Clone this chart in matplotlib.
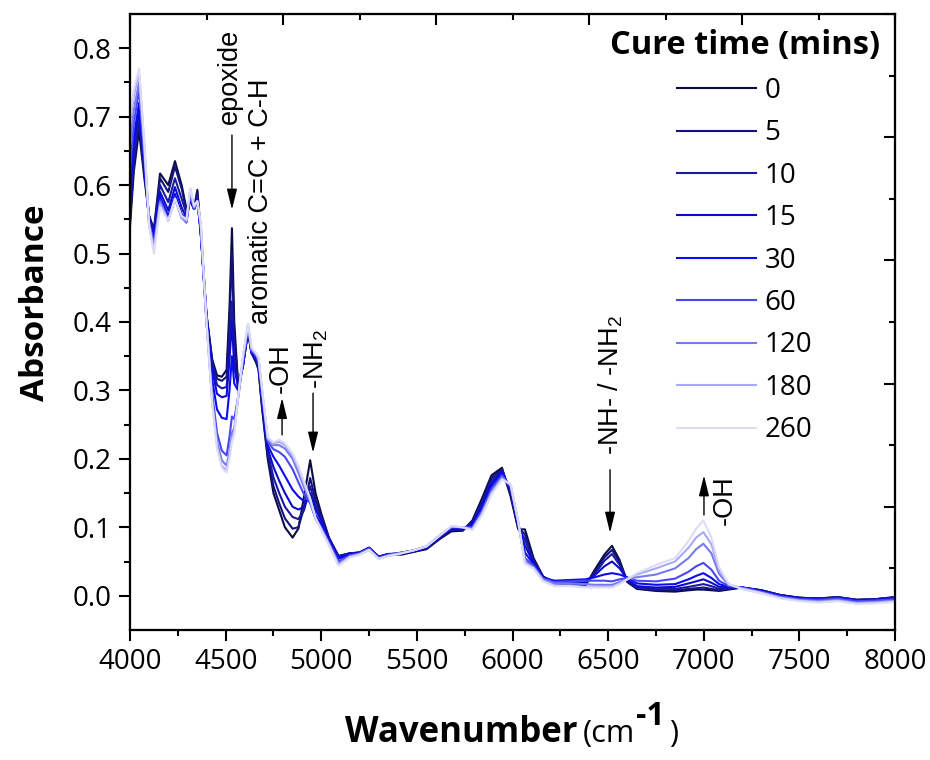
#!/usr/bin/env python3
"""
NIR spectra of the epoxy/amine mix recorded at increasing cure times.
Arrows mark the bands that grow (-OH) or shrink (epoxide, -NH2, -NH-).
"""
import numpy as np
import matplotlib

matplotlib.use("Agg")
import matplotlib.pyplot as plt

plt.rcParams["font.family"] = ["Open Sans", "DejaVu Sans"]

# wavenumber grid (cm-1) shared by every spectrum
wavenumber = [
    4000, 4020, 4047, 4075, 4100, 4125, 4157, 4200, 4235, 4270,
    4295, 4315, 4335, 4352, 4370, 4400, 4430, 4455, 4480, 4505,
    4520, 4533, 4545, 4565, 4590, 4617, 4635, 4660, 4672, 4690,
    4720, 4750, 4780, 4810, 4850, 4880, 4910, 4942, 4970, 5000,
    5040, 5090, 5150, 5200, 5250, 5300, 5350, 5420, 5480, 5550,
    5620, 5680, 5740, 5790, 5840, 5890, 5945, 5990, 6030, 6065,
    6110, 6160, 6220, 6300, 6380, 6430, 6480, 6520, 6560, 6600,
    6650, 6750, 6850, 6920, 6960, 6998, 7040, 7080, 7130, 7200,
    7300, 7400, 7500, 7600, 7700, 7800, 7900, 8000,
]

cure_times = ["0", "5", "10", "15", "30", "60", "120", "180", "260"]

abs_0 = [
    0.54, 0.62, 0.68, 0.61, 0.555, 0.535, 0.617, 0.60, 0.635, 0.60,
    0.565, 0.578, 0.565, 0.593, 0.53, 0.41, 0.345, 0.322, 0.32, 0.33,
    0.42, 0.537, 0.40, 0.31, 0.335, 0.385, 0.355, 0.34, 0.33, 0.275,
    0.20, 0.15, 0.125, 0.10, 0.085, 0.098, 0.145, 0.198, 0.15, 0.12,
    0.085, 0.058, 0.062, 0.063, 0.07, 0.057, 0.061, 0.06, 0.064, 0.068,
    0.083, 0.094, 0.095, 0.11, 0.142, 0.176, 0.187, 0.145, 0.097, 0.097,
    0.055, 0.028, 0.018, 0.016, 0.014, 0.038, 0.06, 0.073, 0.052, 0.02,
    0.01, 0.007, 0.006, 0.008, 0.009, 0.009, 0.008, 0.007, 0.009, 0.012,
    0.008, 0.001, -0.003, -0.004, -0.002, -0.006, -0.005, -0.002,
]
abs_5 = [
    0.55, 0.63, 0.69, 0.62, 0.555, 0.533, 0.61, 0.59, 0.627, 0.595,
    0.562, 0.578, 0.565, 0.59, 0.53, 0.41, 0.342, 0.317, 0.314, 0.32,
    0.40, 0.50, 0.38, 0.31, 0.335, 0.387, 0.355, 0.342, 0.332, 0.278,
    0.205, 0.16, 0.135, 0.113, 0.098, 0.10, 0.128, 0.172, 0.14, 0.117,
    0.084, 0.058, 0.062, 0.063, 0.07, 0.057, 0.061, 0.061, 0.064, 0.069,
    0.084, 0.096, 0.096, 0.108, 0.138, 0.172, 0.185, 0.148, 0.099, 0.09,
    0.052, 0.028, 0.019, 0.018, 0.016, 0.035, 0.056, 0.067, 0.049, 0.021,
    0.011, 0.008, 0.008, 0.01, 0.011, 0.012, 0.01, 0.008, 0.01, 0.012,
    0.008, 0.001, -0.003, -0.004, -0.002, -0.006, -0.005, -0.002,
]
abs_10 = [
    0.56, 0.64, 0.70, 0.62, 0.55, 0.53, 0.60, 0.575, 0.61, 0.58,
    0.558, 0.578, 0.565, 0.585, 0.53, 0.41, 0.337, 0.308, 0.303, 0.305,
    0.36, 0.43, 0.345, 0.305, 0.335, 0.388, 0.355, 0.344, 0.335, 0.282,
    0.21, 0.173, 0.15, 0.13, 0.115, 0.112, 0.125, 0.16, 0.132, 0.113,
    0.083, 0.057, 0.062, 0.063, 0.07, 0.057, 0.061, 0.062, 0.065, 0.07,
    0.085, 0.097, 0.097, 0.106, 0.134, 0.168, 0.183, 0.151, 0.101, 0.082,
    0.05, 0.027, 0.02, 0.02, 0.018, 0.032, 0.051, 0.061, 0.045, 0.022,
    0.012, 0.01, 0.01, 0.013, 0.015, 0.017, 0.014, 0.01, 0.011, 0.012,
    0.008, 0.001, -0.003, -0.004, -0.003, -0.006, -0.005, -0.003,
]
abs_15 = [
    0.58, 0.66, 0.71, 0.63, 0.55, 0.525, 0.59, 0.563, 0.597, 0.567,
    0.552, 0.58, 0.565, 0.58, 0.53, 0.405, 0.33, 0.295, 0.29, 0.292,
    0.345, 0.40, 0.335, 0.305, 0.335, 0.39, 0.356, 0.346, 0.338, 0.286,
    0.215, 0.188, 0.168, 0.15, 0.13, 0.126, 0.13, 0.15, 0.126, 0.11,
    0.082, 0.056, 0.061, 0.063, 0.07, 0.057, 0.06, 0.062, 0.065, 0.07,
    0.086, 0.098, 0.098, 0.104, 0.13, 0.164, 0.181, 0.154, 0.103, 0.073,
    0.048, 0.027, 0.021, 0.022, 0.02, 0.03, 0.043, 0.05, 0.04, 0.024,
    0.014, 0.012, 0.013, 0.018, 0.021, 0.024, 0.019, 0.013, 0.012, 0.012,
    0.007, 0.0, -0.003, -0.005, -0.003, -0.007, -0.006, -0.003,
]
abs_30 = [
    0.60, 0.67, 0.72, 0.63, 0.545, 0.52, 0.583, 0.555, 0.587, 0.558,
    0.547, 0.582, 0.565, 0.577, 0.53, 0.40, 0.315, 0.272, 0.26, 0.258,
    0.30, 0.35, 0.31, 0.30, 0.337, 0.39, 0.357, 0.348, 0.34, 0.29,
    0.22, 0.203, 0.19, 0.175, 0.155, 0.145, 0.138, 0.14, 0.118, 0.105,
    0.08, 0.054, 0.06, 0.062, 0.07, 0.056, 0.06, 0.063, 0.066, 0.071,
    0.087, 0.099, 0.099, 0.102, 0.127, 0.16, 0.179, 0.157, 0.105, 0.063,
    0.046, 0.026, 0.022, 0.023, 0.024, 0.027, 0.031, 0.033, 0.031, 0.027,
    0.018, 0.016, 0.017, 0.024, 0.029, 0.033, 0.026, 0.017, 0.013, 0.012,
    0.007, 0.0, -0.004, -0.005, -0.003, -0.007, -0.006, -0.004,
]
abs_60 = [
    0.62, 0.69, 0.74, 0.64, 0.545, 0.515, 0.578, 0.55, 0.582, 0.553,
    0.545, 0.585, 0.565, 0.575, 0.535, 0.40, 0.295, 0.238, 0.212, 0.205,
    0.232, 0.262, 0.258, 0.29, 0.34, 0.392, 0.358, 0.35, 0.342, 0.295,
    0.225, 0.214, 0.21, 0.203, 0.185, 0.166, 0.148, 0.135, 0.113, 0.10,
    0.078, 0.05, 0.059, 0.062, 0.069, 0.055, 0.06, 0.063, 0.066, 0.072,
    0.088, 0.1, 0.1, 0.1, 0.124, 0.156, 0.176, 0.159, 0.106, 0.055,
    0.044, 0.025, 0.02, 0.021, 0.022, 0.022, 0.022, 0.021, 0.024, 0.026,
    0.022, 0.021, 0.025, 0.035, 0.043, 0.048, 0.038, 0.022, 0.014, 0.012,
    0.006, -0.001, -0.005, -0.006, -0.004, -0.008, -0.007, -0.005,
]
abs_120 = [
    0.66, 0.71, 0.75, 0.65, 0.545, 0.51, 0.575, 0.548, 0.58, 0.552,
    0.546, 0.59, 0.567, 0.575, 0.54, 0.40, 0.285, 0.225, 0.198, 0.19,
    0.21, 0.238, 0.245, 0.287, 0.345, 0.394, 0.36, 0.352, 0.345, 0.30,
    0.228, 0.22, 0.22, 0.215, 0.20, 0.18, 0.158, 0.138, 0.113, 0.098,
    0.076, 0.047, 0.058, 0.061, 0.068, 0.055, 0.059, 0.063, 0.066, 0.072,
    0.088, 0.101, 0.1, 0.098, 0.121, 0.152, 0.173, 0.161, 0.107, 0.05,
    0.042, 0.024, 0.018, 0.018, 0.017, 0.016, 0.016, 0.016, 0.02, 0.025,
    0.027, 0.031, 0.04, 0.055, 0.068, 0.076, 0.062, 0.032, 0.016, 0.011,
    0.005, -0.002, -0.006, -0.008, -0.006, -0.01, -0.009, -0.007,
]
abs_180 = [
    0.69, 0.73, 0.765, 0.66, 0.54, 0.505, 0.572, 0.548, 0.58, 0.553,
    0.548, 0.594, 0.568, 0.576, 0.545, 0.40, 0.282, 0.218, 0.19, 0.183,
    0.205, 0.23, 0.24, 0.29, 0.348, 0.396, 0.362, 0.353, 0.347, 0.302,
    0.23, 0.222, 0.225, 0.22, 0.205, 0.186, 0.163, 0.14, 0.113, 0.097,
    0.075, 0.045, 0.057, 0.06, 0.067, 0.054, 0.058, 0.062, 0.066, 0.072,
    0.088, 0.101, 0.1, 0.097, 0.119, 0.15, 0.171, 0.162, 0.108, 0.048,
    0.04, 0.022, 0.015, 0.015, 0.013, 0.013, 0.013, 0.013, 0.018, 0.024,
    0.031, 0.04, 0.05, 0.07, 0.085, 0.093, 0.075, 0.038, 0.017, 0.01,
    0.004, -0.003, -0.007, -0.009, -0.007, -0.011, -0.01, -0.008,
]
abs_260 = [
    0.70, 0.74, 0.77, 0.66, 0.54, 0.50, 0.568, 0.548, 0.58, 0.555,
    0.55, 0.596, 0.57, 0.577, 0.545, 0.40, 0.28, 0.215, 0.187, 0.18,
    0.20, 0.225, 0.235, 0.29, 0.35, 0.398, 0.363, 0.354, 0.348, 0.304,
    0.232, 0.224, 0.228, 0.223, 0.208, 0.19, 0.167, 0.142, 0.114, 0.096,
    0.074, 0.044, 0.056, 0.06, 0.067, 0.054, 0.058, 0.062, 0.066, 0.072,
    0.088, 0.102, 0.1, 0.096, 0.118, 0.148, 0.17, 0.163, 0.108, 0.047,
    0.04, 0.021, 0.014, 0.014, 0.012, 0.012, 0.012, 0.012, 0.017, 0.024,
    0.033, 0.045, 0.055, 0.08, 0.098, 0.11, 0.085, 0.042, 0.017, 0.01,
    0.004, -0.004, -0.008, -0.01, -0.008, -0.012, -0.011, -0.009,
]

spectra = [abs_0, abs_5, abs_10, abs_15, abs_30, abs_60, abs_120, abs_180, abs_260]
colors = ["#0b0b45", "#12127a", "#1a1aa0", "#0c0cc8", "#0a0af5",
          "#4848f2", "#7878f0", "#a8a8fb", "#dcdcf8"]

# band assignments: label, label position, arrow x, arrow tail y, arrow head y
band_labels = ["epoxide", "aromatic C=C + C-H", "-OH", "-NH$_\\mathregular{2}$",
               "-NH- / -NH$_\\mathregular{2}$", "-OH"]
band_label_xy = [(4523, 0.759), (4685, 0.577), (4790, 0.333), (4975, 0.346),
                 (6515, 0.308), (7111, 0.140)]
band_arrows = [(4533, 0.673, 0.564), (4795, 0.235, 0.289), (4957, 0.296, 0.209),
               (6510, 0.184, 0.092), (7001, 0.118, 0.176)]


fig = plt.figure(figsize=(9.3, 7.6), dpi=100)
ax = fig.add_axes([0.1398, 0.1711, 0.8226, 0.8105])

for label, y, c in zip(cure_times, spectra, colors):
    ax.plot(wavenumber, y, color=c, lw=1.5, label=label)

ax.set_xlim(4000, 8000)
ax.set_ylim(-0.05, 0.85)
ax.set_xticks(np.arange(4000, 8001, 500))
ax.set_xticks(np.arange(4250, 8000, 500), minor=True)
ax.set_yticks(np.arange(0, 0.81, 0.1))
ax.set_yticks(np.arange(0.05, 0.85, 0.1), minor=True)
ax.yaxis.set_major_formatter(matplotlib.ticker.FormatStrFormatter("%.1f"))
ax.tick_params(which="both", direction="out", width=1.5, labelsize=20, pad=5)
ax.tick_params(which="major", length=8)
ax.tick_params(which="minor", length=4.5)
for s in ax.spines.values():
    s.set_linewidth(1.5)

# top and right frame carry their own (unlabelled) inward ticks
axt = ax.twiny()
axt.set_xlim(ax.get_xlim())
axt.set_xticks(np.arange(4000, 8001, 800))
axt.set_xticks(np.arange(4400, 8000, 800), minor=True)
axt.tick_params(axis="x", which="both", direction="in", width=1.5, labeltop=False)
axt.tick_params(axis="x", which="major", length=8)
axt.tick_params(axis="x", which="minor", length=4.5)
axr = ax.twinx()
axr.set_ylim(ax.get_ylim())
axr.set_yticks(np.arange(-0.05, 0.86, 0.18))
axr.set_yticks(np.arange(0.04, 0.85, 0.18), minor=True)
axr.tick_params(axis="y", which="both", direction="in", width=1.5, labelright=False)
axr.tick_params(axis="y", which="major", length=8)
axr.tick_params(axis="y", which="minor", length=4.5)
for a in (axt, axr):
    for s in a.spines.values():
        s.set_linewidth(1.5)

for text, (tx, ty) in zip(band_labels, band_label_xy):
    ax.text(tx, ty, text, rotation=90, ha="center", va="center",
            fontsize=19.5, family="Liberation Sans")
for x, y0, y1 in band_arrows:
    ax.annotate("", xy=(x, y1), xytext=(x, y0),
                arrowprops=dict(arrowstyle="-|>,head_length=0.9,head_width=0.22",
                                color="k", lw=1, mutation_scale=14,
                                shrinkA=0, shrinkB=0))

fig.text(35 / 930, 1 - 303 / 760, "Absorbance", fontsize=24, fontweight="bold",
         rotation=90, ha="center", va="center")
fig.text(577 / 930, 0.024, "Wavenumber", fontsize=25, fontweight="bold",
         ha="right", va="baseline")
fig.text(583 / 930, 0.024, "(cm", fontsize=22, ha="left", va="baseline")
fig.text(636 / 930, 0.046, "-1", fontsize=23, fontweight="bold",
         ha="left", va="baseline")
fig.text(669 / 930, 0.024, ")", fontsize=22, ha="left", va="baseline")

leg = ax.legend(loc="upper right", bbox_to_anchor=(0.98, 0.975), frameon=False,
                title="Cure time (mins)", fontsize=20, handlelength=2.85,
                handletextpad=0.3, labelspacing=0.52, borderpad=0,
                borderaxespad=0)
leg.get_title().set_fontsize(23.5)
leg.get_title().set_fontweight("bold")

fig.savefig("out.png", dpi=100)
